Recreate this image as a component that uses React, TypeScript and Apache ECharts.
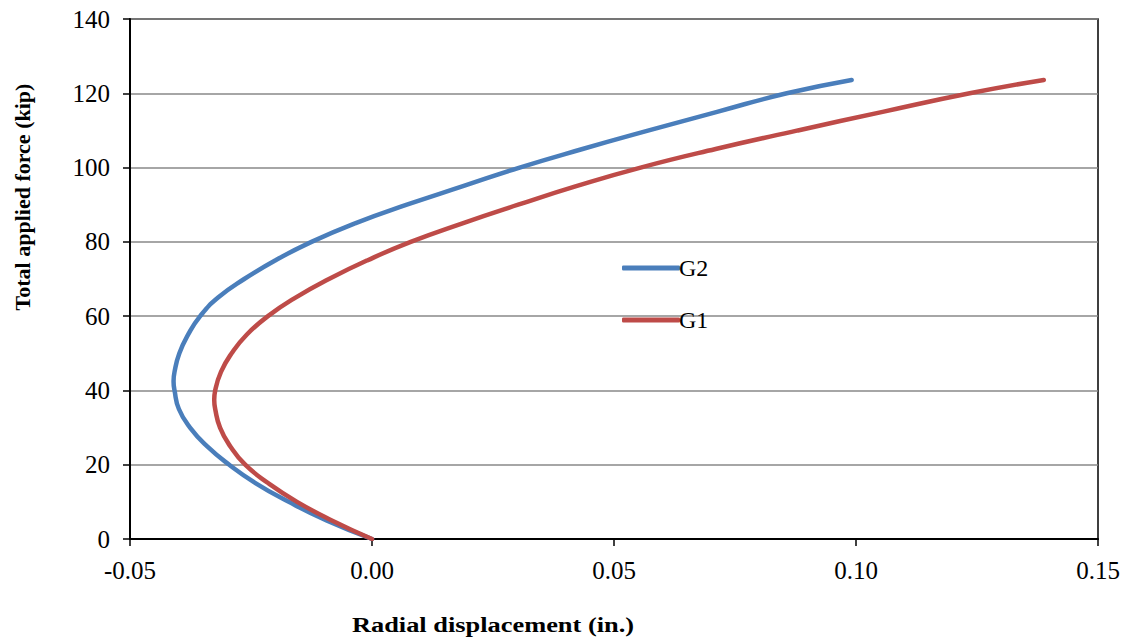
import React, { useEffect, useRef } from "react";
import * as echarts from "echarts";

const g2Force = [0, 5, 10, 15, 20, 25, 30, 35, 40, 42.5, 45, 50, 55, 60, 65, 70, 75, 80, 85, 90, 95, 100, 105, 110, 115, 120, 123.6];
const g2Disp = [0, -0.0094, -0.0172, -0.0240, -0.0295, -0.0341, -0.0376, -0.0399, -0.0408, -0.0410, -0.0408, -0.0398, -0.0380, -0.0355, -0.0318, -0.0264, -0.0200, -0.0125, -0.0035, 0.0072, 0.0188, 0.0305, 0.0435, 0.0572, 0.0713, 0.0857, 0.0991];

const g1Force = [0, 5, 10, 15, 20, 25, 30, 35, 37.5, 40, 45, 50, 55, 60, 65, 70, 75, 80, 85, 90, 95, 100, 105, 110, 115, 120, 123.6];
const g1Disp = [0, -0.0083, -0.0155, -0.0214, -0.0262, -0.0293, -0.0314, -0.0324, -0.0326, -0.0324, -0.0312, -0.0290, -0.0259, -0.0215, -0.0158, -0.0089, -0.0010, 0.0080, 0.0187, 0.0302, 0.0422, 0.0555, 0.0710, 0.0880, 0.1055, 0.1235, 0.1388];

const xTicks = { min: -0.05, max: 0.15, interval: 0.05 };
const yTicks = { min: 0, max: 140, interval: 20 };

const FONT = "Liberation Serif";

export default function App() {
  const ref = useRef<HTMLDivElement>(null);
  useEffect(() => {
    if (!ref.current) return;
    const chart = echarts.init(ref.current, undefined, { renderer: "svg" });
    const toPairs = (xs: number[], ys: number[]) => xs.map((x, i) => [x, ys[i]]);
    chart.setOption({
      animation: false,
      backgroundColor: "#ffffff",
      grid: {
        left: 130,
        right: 33,
        top: 19,
        bottom: 99,
        show: true,
        borderColor: "#000",
        borderWidth: 1.5,
      },
      legend: {
        orient: "vertical",
        left: 617,
        top: 251,
        itemWidth: 58,
        itemHeight: 5,
        itemGap: 28,
        textStyle: { fontFamily: FONT, fontSize: 24, color: "#000", padding: [0, 0, 0, -6] },
        data: [
          { name: "G2", icon: "roundRect" },
          { name: "G1", icon: "roundRect" },
        ],
      },
      xAxis: {
        type: "value",
        min: xTicks.min,
        max: xTicks.max,
        interval: xTicks.interval,
        axisLine: { onZero: false, lineStyle: { color: "#000", width: 2 } },
        axisTick: { show: true, length: 7, lineStyle: { color: "#000", width: 1.5 } },
        splitLine: { show: false },
        axisLabel: {
          fontFamily: FONT,
          fontSize: 25,
          color: "#000",
          margin: 19,
          formatter: (v: number) => v.toFixed(2),
        },
      },
      yAxis: {
        type: "value",
        min: yTicks.min,
        max: yTicks.max,
        interval: yTicks.interval,
        axisLine: { show: true, onZero: false, lineStyle: { color: "#000", width: 2 } },
        axisTick: { show: true, length: 7, lineStyle: { color: "#000", width: 1.5 } },
        splitLine: { show: true, lineStyle: { color: "#888888", width: 1.5 } },
        axisLabel: { fontFamily: FONT, fontSize: 25, color: "#000", margin: 20 },
      },
      graphic: [
        {
          type: "text",
          x: 22,
          y: 197,
          rotation: Math.PI / 2,
          style: {
            text: "Total applied force (kip)",
            fontFamily: FONT,
            fontWeight: "bold",
            fontSize: 22,
            fill: "#000",
            align: "center",
            verticalAlign: "middle",
          },
        },
        {
          type: "text",
          x: 493,
          y: 624,
          scaleX: 1.2,
          style: {
            text: "Radial displacement (in.)",
            fontFamily: FONT,
            fontWeight: "bold",
            fontSize: 22,
            fill: "#000",
            align: "center",
            verticalAlign: "middle",
          },
        },
      ],
      series: [
        {
          name: "G2",
          type: "line",
          data: toPairs(g2Disp, g2Force),
          smooth: 0.5,
          showSymbol: false,
          symbol: "none",
          color: "#4a7ebb",
          lineStyle: { color: "#4a7ebb", width: 4.5, cap: "round" },
        },
        {
          name: "G1",
          type: "line",
          data: toPairs(g1Disp, g1Force),
          smooth: 0.5,
          showSymbol: false,
          symbol: "none",
          color: "#be4b48",
          lineStyle: { color: "#be4b48", width: 4.5, cap: "round" },
        },
      ],
    });
    return () => chart.dispose();
  }, []);
  return <div ref={ref} style={{ width: 1131, height: 638, position: "absolute", left: 0, top: 0 }} />;
}
